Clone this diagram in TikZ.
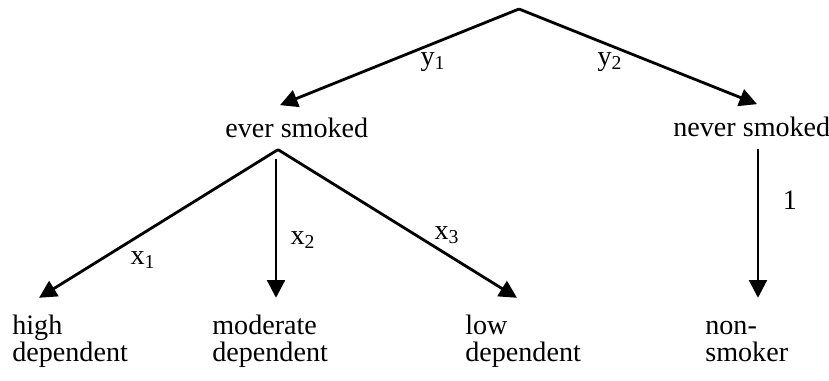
\documentclass[tikz,border=0pt]{standalone}
\usepackage{fontspec}
\setmainfont{Liberation Serif}
\usetikzlibrary{arrows.meta}

\tikzset{
  lbl/.style={font=\fontsize{16pt}{15pt}\selectfont, inner xsep=0pt},
  mid/.style={lbl, anchor=base west, inner ysep=0.24cm},
  leaf/.style={lbl, anchor=base west, align=left, inner ysep=0.34cm},
  arr/.style={line width=1.6pt, -{Triangle[length=10pt,width=10pt]}}
}

\begin{document}
\begin{tikzpicture}[x=0.02cm,y=-0.02cm]
      \useasboundingbox (0,0) rectangle (829,380);

      % Nodes
      \coordinate (root) at (519,9);
      \node[mid] (ever) at (225,137) {ever smoked};
      \node[mid] (never) at (673,136) {never smoked};

      \node[leaf] (high) at (12,361) {high\\dependent};
      \node[leaf] (moderate) at (212,361) {moderate\\dependent};
      \node[leaf] (low) at (465,361) {low\\dependent};
      \node[leaf] (nonsmoker) at (705,361) {\vphantom{l}non-\\smoker};

      % Edges
      \draw[arr] (root) -- (ever.north -| 280,0);
      \draw[arr] (root) -- (never.north -| 757,0);
      \draw[arr] (ever.south -| 278,0) -- (high.north -| 39,0);
      \draw[arr, shorten <=0.18cm] (ever.south -| 276,0) -- (moderate.north -| 276,0);
      \draw[arr] (ever.south -| 278,0) -- (low.north -| 517,0);
      \draw[arr] (never.south -| 758,0) -- (nonsmoker.north -| 758,0);

      % Edge labels
      \node[lbl] (y1) at (433,62) {y\textsubscript{1}};
      \node[lbl] (y2) at (610,62) {y\textsubscript{2}};
      \node[lbl] (x1) at (143,260) {x\textsubscript{1}};
      \node[lbl] (x2) at (303,240) {x\textsubscript{2}};
      \node[lbl] (x3) at (447,235) {x\textsubscript{3}};
      \node[lbl] (one) at (790,200) {1};
    \end{tikzpicture}
\end{document}
